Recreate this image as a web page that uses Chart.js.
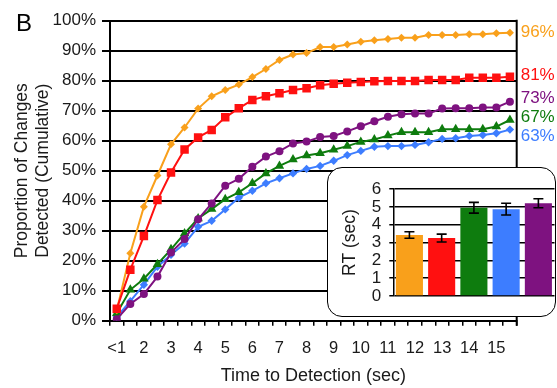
<!DOCTYPE html>
<html><head><meta charset="utf-8">
<script src="https://cdn.jsdelivr.net/npm/chart.js@4.4.1/dist/chart.umd.min.js"></script>
<style>
html,body{margin:0;padding:0;background:#fff;}
#wrap{position:relative;width:557px;height:388px;overflow:hidden;}
#mainHolder{position:absolute;left:0;top:0;width:557px;height:388px;}
#insetBox{position:absolute;left:327px;top:167px;width:229px;height:150px;box-sizing:border-box;border:1.5px solid #000;border-radius:15px;background:#fff;}
#insetHolder{position:absolute;left:327px;top:167px;width:229px;height:150px;}
</style></head>
<body><div id="wrap">
<div id="mainHolder"><canvas id="main" width="557" height="388"></canvas></div>
<div id="insetBox"></div>
<div id="insetHolder"><canvas id="inset" width="229" height="150"></canvas></div>
</div>
<script>
// ---- data ----
const categories = ['<1','','2','','3','','4','','5','','6','','7','','8','','9','','10','','11','','12','','13','','14','','15',''];
const seriesOrange = [3.5, 22.5, 38, 48.4, 58.8, 64.4, 70.7, 74.8, 76.9, 78.7, 81.2, 83.9, 86.9, 88.7, 89.2, 91.2, 91.2, 92.1, 93, 93.5, 93.9, 94.3, 94.3, 95.2, 95.2, 95.2, 95.5, 95.5, 95.8, 96];
const seriesRed    = [4, 17, 28.2, 40.2, 49.4, 57.1, 61.1, 63.6, 67.8, 70.8, 73.6, 74.8, 75.8, 76.9, 77.5, 78.5, 79, 79.3, 79.6, 79.8, 79.9, 79.9, 79.9, 80.2, 80.2, 80.2, 81, 81, 81, 81.3];
const seriesGreen  = [2.5, 10.3, 14, 18.8, 23.8, 29.1, 34.1, 37.2, 40.5, 42.8, 45.8, 49.1, 51.6, 53.7, 55.1, 55.8, 57, 58.2, 59.6, 60.4, 61.7, 62.8, 62.8, 62.8, 63.8, 63.8, 63.8, 63.8, 64.7, 66.9];
const seriesBlue   = [1.3, 6.5, 12, 18, 22, 25.7, 31.3, 33.3, 37.1, 41, 43.3, 45.8, 47.5, 49.1, 50.6, 51.6, 53.3, 55.2, 56.6, 58, 58.2, 58.2, 58.6, 59.5, 60.6, 60.8, 61.6, 61.9, 62.5, 63.7];
const seriesPurple = [0.5, 5.6, 8.9, 14.7, 22.7, 27.2, 33.8, 39.1, 45, 47.3, 51.3, 54.7, 56.5, 59.1, 59.7, 61.2, 61.6, 63.1, 64.8, 66.5, 68, 68.8, 69.1, 69.1, 70.7, 70.8, 70.8, 71.1, 71.1, 73];
const endLabels = ['96%','81%','73%','67%','63%'];
const insetCategories = ['Orange','Red','Green','Blue','Purple'];
const rtMeans  = [3.42, 3.25, 4.95, 4.87, 5.2];
const rtErrors = [0.18, 0.22, 0.3, 0.33, 0.25];

// ---- styles ----
const C = {orange:'#F9A01B', red:'#FF1010', green:'#0E7C0E', blue:'#3D7DFF', purple:'#7E1280'};
const endLabelColors = [C.orange, C.red, C.purple, C.green, C.blue];
const endLabelAnchors = [96.1, 81.9, 74.2, 67.9, 61.6];
const FONT = '"Liberation Sans", Arial, Helvetica, sans-serif';
const TXT = '#1a1a1a';
Chart.defaults.font.family = FONT;
Chart.defaults.color = TXT;

function ds(data, color, style, r){
  return {data, borderColor:color, backgroundColor:color, pointBackgroundColor:color, pointBorderColor:color,
    pointStyle:style, pointRadius:r, pointBorderWidth:0, borderWidth:2, tension:0, fill:false};
}

const frameAndLabels = {
  id:'frameAndLabels',
  beforeDatasetsDraw(chart){
    const {ctx, chartArea} = chart;
    ctx.save();
    ctx.strokeStyle='#000'; ctx.lineWidth=2;
    ctx.beginPath(); ctx.moveTo(chartArea.right, chartArea.top-1); ctx.lineTo(chartArea.right, chartArea.bottom+5); ctx.stroke();
    ctx.restore();
  },
  afterDatasetsDraw(chart){
    const {ctx, chartArea, scales:{y}} = chart;
    ctx.save();
    ctx.font = '17px ' + FONT;
    ctx.textBaseline='middle'; ctx.textAlign='left';
    endLabels.forEach((t,i)=>{ ctx.fillStyle=endLabelColors[i]; ctx.fillText(t, chartArea.right+4, y.getPixelForValue(endLabelAnchors[i])); });
    ctx.font = '24px ' + FONT; ctx.fillStyle='#000';
    ctx.fillText('B', 16, 24);
    ctx.restore();
  }
};

new Chart(document.getElementById('main'), {
  type:'line',
  data:{labels:categories, datasets:[
    ds(seriesRed, C.red, 'rect', 6),
    ds(seriesOrange, C.orange, 'rectRot', 4),
    ds(seriesPurple, C.purple, 'circle', 4),
    ds(seriesGreen, C.green, 'triangle', 5.5),
    ds(seriesBlue, C.blue, 'rectRot', 4.2)
  ]},
  options:{
    responsive:false, animation:false,
    layout:{padding:{top:20.7, right:40.3, bottom:0, left:0}},
    plugins:{legend:{display:false}, tooltip:{enabled:false}},
    scales:{
      x:{offset:true,
        grid:{offset:true, drawOnChartArea:false, drawTicks:true, tickLength:5, color:'#000', lineWidth:1.5},
        border:{display:true, color:'#000', width:2},
        ticks:{autoSkip:false, maxRotation:0, minRotation:0, color:TXT, font:{size:16.5}, padding:13},
        title:{display:true, text:'Time to Detection (sec)', color:TXT, font:{size:18, lineHeight:1.2}, padding:{top:0,bottom:1}},
        afterFit:s=>{s.height=67.3;}
      },
      y:{min:0, max:100,
        ticks:{stepSize:10, callback:v=>v+'%', color:TXT, font:{size:17}, padding:6},
        grid:{color:'#000', lineWidth:2, tickLength:8},
        border:{color:'#000', width:2},
        title:{display:true, text:['Proportion of Changes','Detected (Cumulative)'], color:TXT, font:{size:17.5, lineHeight:1.23}, padding:{top:11,bottom:0}},
        afterFit:s=>{s.width=110;}
      }
    }
  },
  plugins:[frameAndLabels]
});

const errorBars = {
  id:'errorBars',
  afterDatasetsDraw(chart){
    const {ctx, scales:{y}} = chart;
    const meta = chart.getDatasetMeta(0);
    ctx.save();
    ctx.strokeStyle='#000'; ctx.lineWidth=1.6;
    meta.data.forEach((bar,i)=>{
      const x = bar.x;
      const yt = y.getPixelForValue(rtMeans[i]+rtErrors[i]);
      const yb = y.getPixelForValue(rtMeans[i]-rtErrors[i]);
      ctx.beginPath();
      ctx.moveTo(x, yt); ctx.lineTo(x, yb);
      ctx.moveTo(x-5, yt); ctx.lineTo(x+5, yt);
      ctx.moveTo(x-5, yb); ctx.lineTo(x+5, yb);
      ctx.stroke();
    });
    ctx.restore();
  }
};

new Chart(document.getElementById('inset'), {
  type:'bar',
  data:{labels:insetCategories, datasets:[{data:rtMeans,
    backgroundColor:[C.orange, C.red, C.green, C.blue, C.purple],
    barPercentage:0.84, categoryPercentage:1}]},
  options:{
    responsive:false, animation:false,
    layout:{padding:{top:22, right:1.5, bottom:21, left:0}},
    plugins:{legend:{display:false}, tooltip:{enabled:false}},
    scales:{
      x:{display:false},
      y:{min:0, max:6,
        ticks:{stepSize:1, autoSkip:false, color:TXT, font:{size:17, lineHeight:1}, padding:8},
        grid:{color:'#000', lineWidth:1.5, tickLength:4},
        border:{color:'#000', width:1.5},
        title:{display:true, text:'RT (sec)', color:TXT, font:{size:17.5, lineHeight:1.2}, padding:{top:12.5,bottom:0}},
        afterFit:s=>{s.width=66.3;}
      }
    }
  },
  plugins:[errorBars]
});
</script>
</body></html>
